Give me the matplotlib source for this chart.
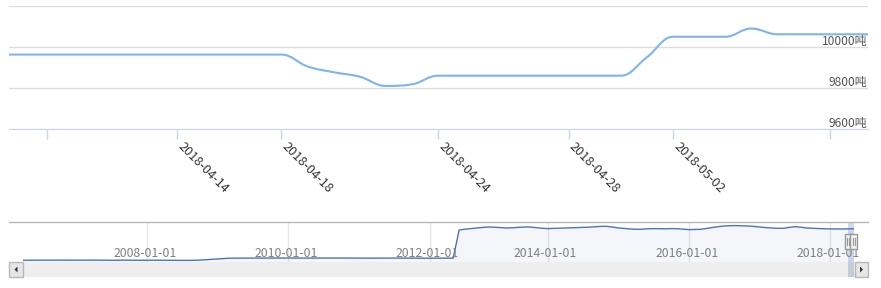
import numpy as np
import pandas as pd
import matplotlib

matplotlib.use("Agg")
import matplotlib.pyplot as plt
from matplotlib.path import Path
from matplotlib.patches import PathPatch, Rectangle, Polygon
from matplotlib.lines import Line2D
from matplotlib.transforms import blended_transform_factory

plt.rcParams["font.family"] = ["Noto Sans CJK SC", "DejaVu Sans"]

W, H = 881, 288

# --- main chart: one point per trading day, ordinal x axis (Highcharts Stock style)
main_values = [9963, 9963, 9963, 9963, 9963, 9963, 9963, 9963, 9963, 9963, 9963, 9963,
               9905, 9877, 9855, 9810, 9818, 9860,
               9860, 9860, 9860, 9860, 9860, 9860, 9860,
               9950, 10050, 10050, 10050, 10090,
               10062, 10062, 10062, 10062, 10062]
main_ticks = [2, 7, 11, 17, 22, 26, 32]
main_tick_labels = ["", "2018-04-14", "2018-04-18", "2018-04-24", "2018-04-28", "2018-05-02", ""]
main_view = (0.56, 33.47)
y_ticks = [9600, 9800, 10000, 10200]
y_tick_labels = ["9600吨", "9800吨", "10000吨", ""]

# --- navigator: monthly series, full history
nav_missing = ["2012-10-01", "2012-11-01", "2013-02-01", "2013-08-01"]
nav_values = [
    # 2006-04 .. 2008-09
    8490, 8488, 8492, 8490, 8486, 8490, 8494, 8492, 8488, 8486,
    8490, 8492, 8494, 8490, 8488, 8486, 8490, 8492, 8490, 8488,
    8484, 8486, 8490, 8488, 8486, 8482, 8480, 8478, 8480, 8484,
    # 2008-10 .. 2009-03
    8495, 8515, 8540, 8560, 8578, 8590,
    # 2009-04 .. 2012-05
    8592, 8595, 8598, 8596, 8594, 8596, 8598, 8600, 8598, 8596,
    8594, 8592, 8594, 8596, 8598, 8600, 8602, 8600, 8598, 8596,
    8594, 8592, 8590, 8592, 8594, 8596, 8598, 8596, 8594, 8592,
    8590, 8588, 8590, 8592, 8594, 8592, 8590, 8592,
    # 2012-06 .. 2018-05
    10000, 10040, 10070, 10100, 10130, 10150, 10140, 10120, 10100, 10110,
    10130, 10150, 10150, 10120, 10090, 10070, 10080, 10090, 10100, 10110,
    10120, 10130, 10140, 10160, 10180, 10185, 10150, 10100, 10080, 10050,
    10035, 10040, 10060, 10070, 10065, 10060, 10070, 10065, 10040, 10020,
    10025, 10035, 10080, 10130, 10170, 10200, 10215, 10220, 10210, 10200,
    10180, 10150, 10120, 10100, 10085, 10085, 10130, 10165, 10140, 10100,
    10085, 10070, 10060, 10055, 10050, 10050, 10055, 10060,
]
nav_tick_years = [2008, 2010, 2012, 2014, 2016, 2018]
nav_ylim = (8400, 10400)
selected_from = "2018-04-01"


def hc_spline(xs, ys, smoothing=1.5):
    """Cubic path through the points, same control-point rule as Highcharts 'spline'."""
    n = len(xs)
    denom = smoothing + 1
    lc = [(x, y) for x, y in zip(xs, ys)]
    rc = list(lc)
    for i in range(1, n - 1):
        x, y = xs[i], ys[i]
        lx, ly = xs[i - 1], ys[i - 1]
        nx, ny = xs[i + 1], ys[i + 1]
        lcx, lcy = (smoothing * x + lx) / denom, (smoothing * y + ly) / denom
        rcx, rcy = (smoothing * x + nx) / denom, (smoothing * y + ny) / denom
        corr = (rcy - lcy) * (rcx - x) / (rcx - lcx) + y - rcy
        lcy += corr
        rcy += corr
        if lcy > ly and lcy > y:
            lcy = max(ly, y); rcy = 2 * y - lcy
        elif lcy < ly and lcy < y:
            lcy = min(ly, y); rcy = 2 * y - lcy
        if rcy > ny and rcy > y:
            rcy = max(ny, y); lcy = 2 * y - rcy
        elif rcy < ny and rcy < y:
            rcy = min(ny, y); lcy = 2 * y - rcy
        lc[i] = (lcx, lcy)
        rc[i] = (rcx, rcy)
    verts = [(xs[0], ys[0])]
    codes = [Path.MOVETO]
    for i in range(1, n):
        verts += [rc[i - 1], lc[i], (xs[i], ys[i])]
        codes += [Path.CURVE4] * 3
    return Path(verts, codes)


def fig_rect(x, y, w, h, **kw):
    """Rectangle given in pixels from the top-left corner of the figure."""
    return Rectangle((x / W, 1 - (y + h) / H), w / W, h / H,
                     transform=fig.transFigure, **kw)


def fig_poly(pts, **kw):
    return Polygon([(x / W, 1 - y / H) for x, y in pts], closed=True,
                   transform=fig.transFigure, **kw)


fig = plt.figure(figsize=(W / 100, H / 100), dpi=100)

# ---------------- main chart
ax = fig.add_axes([9 / W, 1 - 129 / H, 859 / W, 123 / H])
mx = np.arange(len(main_values))
ax.add_patch(PathPatch(hc_spline(mx, main_values), fill=False,
                       edgecolor="#7cb5ec", lw=1.5, capstyle="round", joinstyle="round"))
ax.set_xlim(*main_view)
ax.set_ylim(y_ticks[0], y_ticks[-1])
ax.set_yticks(y_ticks)
ax.tick_params(axis="y", length=0, labelleft=False)
ax.grid(axis="y", color="#dcdcdc", lw=1)
ax.set_axisbelow(True)
for s in ("top", "left", "right"):
    ax.spines[s].set_visible(False)
ax.spines["bottom"].set_color("#ccd6eb")
ax.set_xticks(main_ticks, main_tick_labels)
ax.tick_params(axis="x", length=7.2, width=1, color="#ccd6eb", pad=5.5,
               labelsize=9.2, labelcolor="#333333")
for lab in ax.get_xticklabels():
    lab.set_rotation(-45)
    lab.set_ha("left")
    lab.set_va("baseline")
    lab.set_rotation_mode("anchor")

ytr = blended_transform_factory(ax.transAxes, ax.transData)
for v, lab in zip(y_ticks, y_tick_labels):
    ax.annotate(lab, (1, v), xycoords=ytr, xytext=(-1, 2), textcoords="offset pixels",
                ha="right", va="baseline", fontsize=8.6, color="#555555")

# ---------------- navigator
nav_dates = pd.date_range("2006-04-01", "2018-05-01", freq="MS").drop(pd.to_datetime(nav_missing))
nx = np.arange(len(nav_values))
axn = fig.add_axes([23 / W, 1 - 262 / H, 831 / W, 40 / H])
axn.fill_between(nx, nav_values, nav_ylim[0], color="#335cad", alpha=0.05, lw=0)
axn.plot(nx, nav_values, color="#4d72b8", lw=1)
axn.set_xlim(nx[0], nx[-1])
axn.set_ylim(*nav_ylim)
for s in axn.spines.values():
    s.set_visible(False)
axn.set_yticks([])
nav_tick_idx = [int(np.searchsorted(nav_dates, pd.Timestamp(f"{y}-01-01"))) for y in nav_tick_years]
axn.set_xticks(nav_tick_idx, [""] * len(nav_tick_idx))
axn.tick_params(axis="x", length=0)
axn.grid(axis="x", color="#e6e6e6", lw=1)
axn.set_axisbelow(True)
xtr = axn.get_xaxis_transform()
for i, y in zip(nav_tick_idx, nav_tick_years):
    axn.annotate(f"{y}-01-01", (i, 0), xycoords=xtr, xytext=(-2, 5), textcoords="offset pixels",
                 ha="center", va="baseline", fontsize=8.8, color="#808080")

sel0 = int(np.searchsorted(nav_dates, pd.Timestamp(selected_from)))
sel1 = nx[-1]
axn.axvspan(sel0, sel1, color="#6685c2", alpha=0.3, lw=0)

# outline along the top of the navigator
fig.add_artist(Line2D([9 / W, 868 / W], [1 - 222 / H] * 2, transform=fig.transFigure,
                      color="#b8b8b8", lw=1))

# ---------------- scrollbar
fig.add_artist(fig_rect(9, 262, 859, 15, facecolor="#eeeeee", lw=0))
px0 = axn.transData.transform((sel0, 0))[0]
px1 = axn.transData.transform((sel1, 0))[0]
fig.add_artist(fig_rect(px0, 262, px1 - px0, 15, facecolor="#c4ccd6", lw=0))
fig.add_artist(fig_rect(9, 262, 14, 15, facecolor="#e6e6e6", edgecolor="#b8b8b8", lw=1))
fig.add_artist(fig_rect(855, 262, 13, 15, facecolor="#e6e6e6", edgecolor="#b8b8b8", lw=1))
fig.add_artist(fig_poly([(17.5, 266.5), (17.5, 272.5), (14.5, 269.5)], facecolor="#333333", lw=0))
fig.add_artist(fig_poly([(860, 266.5), (860, 272.5), (863, 269.5)], facecolor="#333333", lw=0))

# navigator handles at the edges of the selected range
for px in (px0, px1):
    fig.add_artist(fig_rect(px - 3.5, 234, 7, 15, facecolor="#f2f2f2", edgecolor="#999999", lw=1))
    for dx in (-1.2, 1.2):
        fig.add_artist(Line2D([(px + dx) / W] * 2, [1 - 238 / H, 1 - 245 / H],
                              transform=fig.transFigure, color="#999999", lw=0.8))

fig.savefig("out.png", dpi=100)
